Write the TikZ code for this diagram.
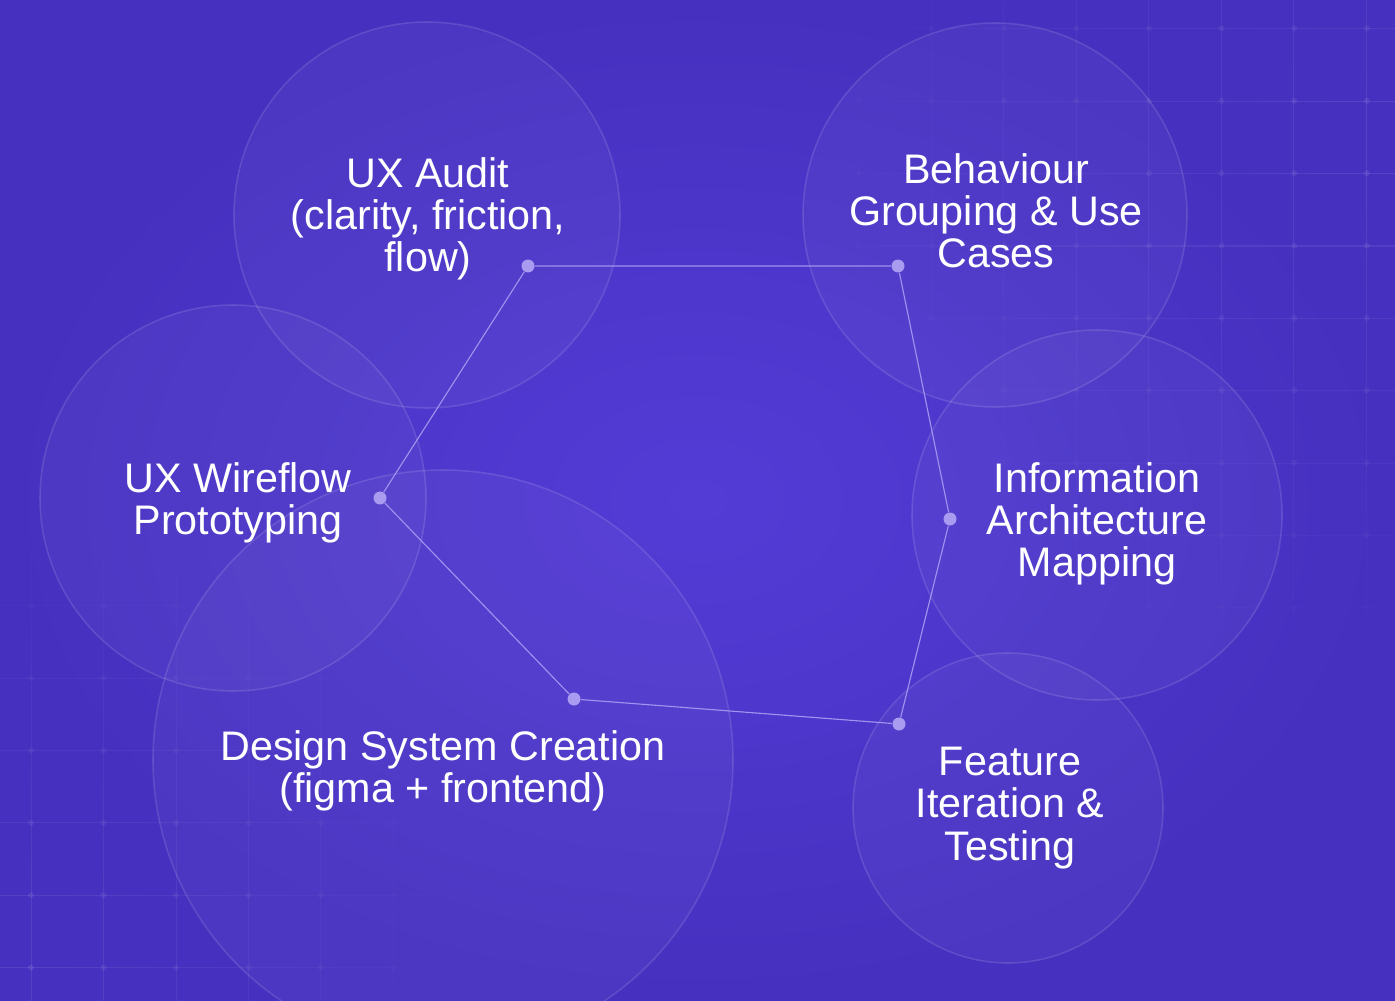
\documentclass[tikz,border=0pt]{standalone}
\usepackage{fontspec}
\setmainfont{Liberation Sans}
\usetikzlibrary{fadings}
\definecolor{bginner}{HTML}{533CD6}
\definecolor{bgouter}{HTML}{4530BF}
\definecolor{linkline}{HTML}{A092EE}
\definecolor{dotfill}{HTML}{A99CF0}
\tikzfading[name=cornerfade, inner color=transparent!0, outer color=transparent!100]
\tikzset{
  ring/.style={draw=white, draw opacity=.12, fill=white, fill opacity=.035, line width=.9pt},
  gridline/.style={draw=white, opacity=.09, line width=.6pt},
  griddot/.style={fill=white, opacity=.09},
  link/.style={draw=linkline, line width=.65pt},
  dot/.style={circle, fill=dotfill, inner sep=0pt, minimum size=.26cm},
  stagetext/.style={text=white, align=center, inner sep=0pt, font=\fontsize{23.5}{24}\selectfont}
}

\begin{document}
\begin{tikzpicture}[x=0.02cm, y=-0.02cm]
\useasboundingbox (0,0) rectangle (1395,1000);
\shade[inner color=bginner, outer color=bgouter] (0,0) rectangle (1395,1000);

\begin{scope}
\clip (0,0) rectangle (1395,1000);
\draw[gridline, path fading=cornerfade] (786,-410) (1940,710)
  \foreach \gx in {786.3,858.9,...,1440} {(\gx,-410) -- (\gx,710)}
  \foreach \gy in {28.3,100.7,...,700} {(786,\gy) -- (1940,\gy)};
\fill[griddot, path fading=cornerfade] (786,-410) (1940,710)
  \foreach \gx in {786.3,858.9,...,1440} {\foreach \gy in {28.3,100.7,...,700} {(\gx,\gy) circle (3)}};
\draw[gridline, path fading=cornerfade] (-420,500) (480,1400)
  \foreach \gx in {-40.8,31.7,...,480} {(\gx,500) -- (\gx,1400)}
  \foreach \gy in {532.6,605,...,1400} {(-420,\gy) -- (480,\gy)};
\fill[griddot, path fading=cornerfade] (-420,500) (480,1400)
  \foreach \gx in {-40.8,31.7,...,480} {\foreach \gy in {532.6,605,...,1400} {(\gx,\gy) circle (3)}};

\filldraw[ring] (427,215) circle (193);
\filldraw[ring] (995,215) circle (192);
\filldraw[ring] (233,498) circle (193);
\filldraw[ring] (1097,515) circle (185);
\filldraw[ring] (443,760) circle (290);
\filldraw[ring] (1008,808) circle (155);
\end{scope}

\node[dot] (auditdot) at (528,266) {};
\node[dot] (behavdot) at (898,266) {};
\node[dot] (infodot) at (950,519) {};
\node[dot] (featdot) at (899,724) {};
\node[dot] (designdot) at (574,699) {};
\node[dot] (wiredot) at (380,498) {};
\draw[link] (auditdot) -- (behavdot) -- (infodot) -- (featdot) -- (designdot) -- (wiredot) -- (auditdot);

\node[stagetext] (audit) at (428,219) {UX Audit\\(clarity, friction,\\flow)};
\node[stagetext] (behaviour) at (996,211) {Behaviour\\Grouping \& Use\\Cases};
\node[stagetext] (wireflow) at (238,503) {UX Wireflow\\Prototyping};
\node[stagetext] (infoarch) at (1097,524) {Information\\Architecture\\Mapping};
\node[stagetext] (designsys) at (443,771) {Design System Creation\\(figma + frontend)};
\node[stagetext] (feature) at (1010,808) {Feature\\Iteration \&\\Testing};
\end{tikzpicture}
\end{document}
